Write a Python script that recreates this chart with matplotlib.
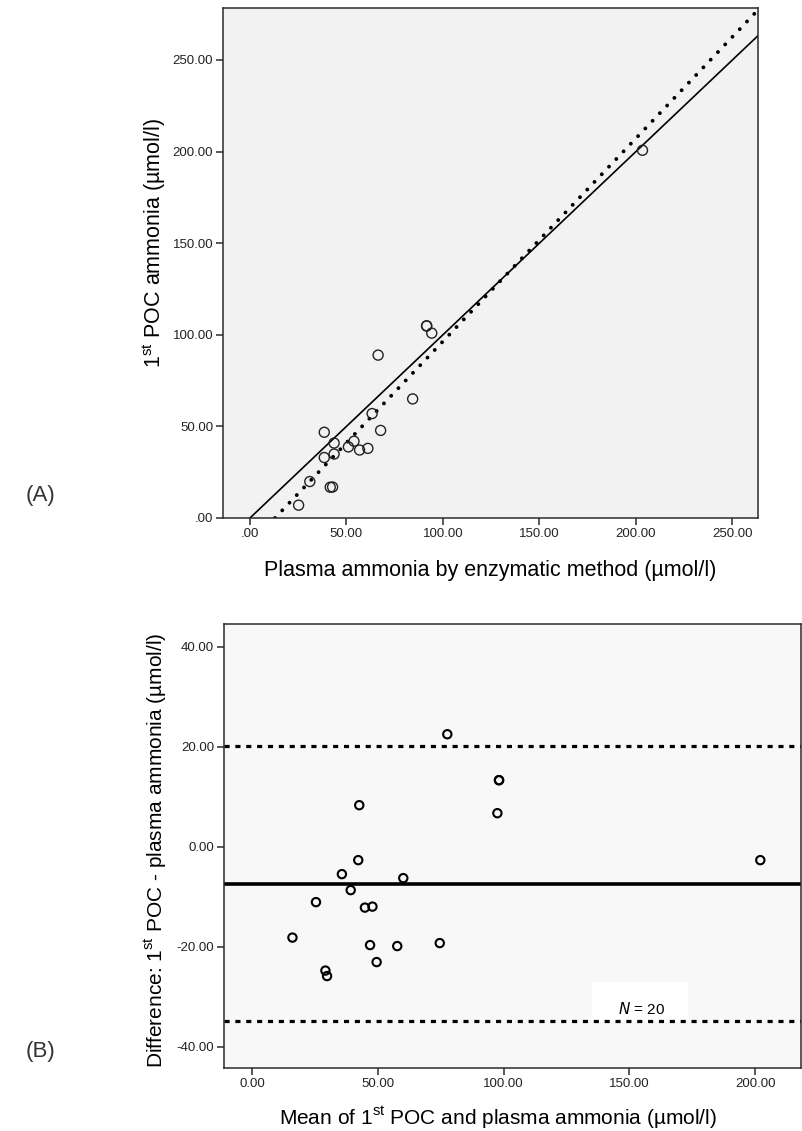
import numpy as np
import matplotlib
matplotlib.use("Agg")
import matplotlib.pyplot as plt
from matplotlib.patches import Rectangle

plt.rcParams['font.family'] = ['Liberation Sans', 'DejaVu Sans']

enzymatic = [66.4, 38.5, 43.6, 38.5, 63.3, 43.6, 31.0, 51.0, 53.9, 25.2,
             56.8, 67.7, 84.3, 61.1, 41.6, 42.8, 91.5, 91.6, 94.2, 203.4]
poc_first = [88.9, 46.8, 40.9, 33.0, 57.0, 34.9, 19.9, 38.8, 41.9, 7.0,
             37.1, 47.8, 65.0, 38.0, 16.8, 16.9, 104.8, 104.9, 100.9, 200.7]

top_ticks = [0, 50, 100, 150, 200, 250]
top_labels = [".00", "50.00", "100.00", "150.00", "200.00", "250.00"]
ba_xticks = [0, 50, 100, 150, 200]
ba_xlabels = ["0.00", "50.00", "100.00", "150.00", "200.00"]
ba_yticks = [40, 20, 0, -20, -40]
ba_ylabels = ["40.00", "20.00", "0.00", "-20.00", "-40.00"]

enz = np.array(enzymatic)
poc = np.array(poc_first)
mean_vals = (enz + poc) / 2
diff_vals = poc - enz
md = diff_vals.mean()
sd = diff_vals.std(ddof=1)

fig = plt.figure(figsize=(8.02, 11.31), dpi=100)

def style_axes(ax, face):
    ax.set_facecolor(face)
    for s in ax.spines.values():
        s.set_color("#2b2b2b")
        s.set_linewidth(1.1)
    ax.tick_params(direction="out", length=5, width=1.1, labelsize=9.5,
                   color="#2b2b2b", labelcolor="#222222", pad=2)

# ---- (A) scatter with identity and fit lines
ax1 = fig.add_axes([0.278, 0.542, 0.667, 0.451])
style_axes(ax1, "#f2f2f2")
ax1.set_xlim(-14, 263.2)
ax1.set_ylim(0, 278.4)

xr = np.array([0, 263.2])
ax1.plot(xr, xr, color="black", lw=1.2, zorder=2)

slope, icpt = np.polyfit(enz, poc, 1)
xf = np.array([-icpt / slope, 263.2])
ax1.plot(xf, slope * xf + icpt, color="black", lw=2.8,
         linestyle=(0, (0.01, 2.7)), dash_capstyle="round", zorder=2)

ax1.scatter(enz, poc, s=52, facecolors="none", edgecolors="#222222",
            linewidths=1.0, zorder=3)

ax1.set_xticks(top_ticks)
ax1.set_xticklabels(top_labels)
ax1.set_yticks(top_ticks)
ax1.set_yticklabels(top_labels)
ax1.set_xlabel("Plasma ammonia by enzymatic method (\u00b5mol/l)", fontsize=15.5)
ax1.xaxis.set_label_coords(0.5, -0.083)
ax1.set_ylabel("1$^{\\mathregular{st}}$ POC ammonia (\u00b5mol/l)", fontsize=15.5)
ax1.yaxis.set_label_coords(-0.103, 0.54)

fig.text(0.032, 1 - 496 / 1131, "(A)", fontsize=16, color="#333333",
         va="center", ha="left")

# ---- (B) Bland-Altman
ax2 = fig.add_axes([0.279, 0.0557, 0.72, 0.3923])
style_axes(ax2, "#f8f8f8")
ax2.set_xlim(-11.2, 218.3)
ax2.set_ylim(-44.3, 44.5)

ax2.add_patch(Rectangle((0.638, 0.104), 0.166, 0.09, transform=ax2.transAxes,
                        facecolor="white", edgecolor="none", zorder=1.5))
ax2.text(0.723, 0.133, "$\\mathit{N}$ = 20", transform=ax2.transAxes,
         ha="center", va="center", fontsize=11, zorder=4)

ax2.axhline(md, color="black", lw=2.6, zorder=2)
for lim in (md + 1.96 * sd, md - 1.96 * sd):
    ax2.axhline(lim, color="black", lw=2.3, linestyle=(0, (1.6, 1.8)), zorder=2)

ax2.scatter(mean_vals, diff_vals, s=36, facecolors="none",
            edgecolors="black", linewidths=1.5, zorder=3)

ax2.set_xticks(ba_xticks)
ax2.set_xticklabels(ba_xlabels)
ax2.set_yticks(ba_yticks)
ax2.set_yticklabels(ba_ylabels)
ax2.set_xlabel("Mean of 1$^{\\mathregular{st}}$ POC and plasma ammonia (\u00b5mol/l)",
               fontsize=15)
ax2.xaxis.set_label_coords(0.475, -0.083)
ax2.set_ylabel("Difference: 1$^{\\mathregular{st}}$ POC - plasma ammonia (\u00b5mol/l)",
               fontsize=15)
ax2.yaxis.set_label_coords(-0.094, 0.49)

fig.text(0.032, 1 - 1052 / 1131, "(B)", fontsize=16, color="#333333",
         va="center", ha="left")

fig.savefig("out.png", dpi=100, facecolor="white")
